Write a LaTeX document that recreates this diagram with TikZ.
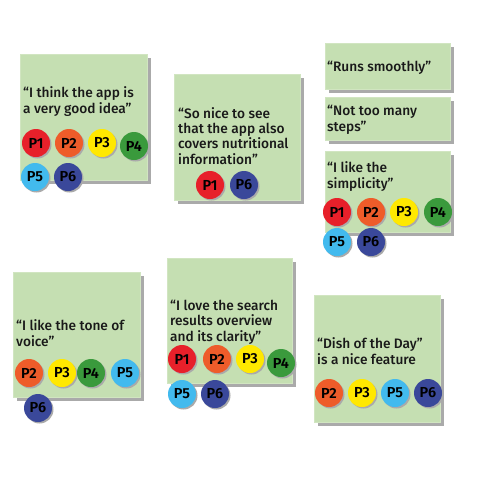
\documentclass[tikz,border=0pt]{standalone}
\usepackage{fontspec}
\setmainfont{Fira Sans}[UprightFont={* Medium}, BoldFont={* SemiBold}]
\newfontfamily\pfont{Fira Sans}[UprightFont={* SemiBold}]
\usetikzlibrary{shadows}
\definecolor{note}{RGB}{197,223,178}
\definecolor{shade}{RGB}{170,170,170}
\definecolor{cA}{RGB}{231,32,42}
\definecolor{cB}{RGB}{238,92,42}
\definecolor{cC}{RGB}{255,232,0}
\definecolor{cD}{RGB}{58,154,60}
\definecolor{cE}{RGB}{66,186,238}
\definecolor{cF}{RGB}{58,72,154}
\tikzset{
  box/.style={fill=note, draw=note!80!white, line width=0.6pt, inner sep=0,
    drop shadow={shadow xshift=4pt, shadow yshift=-4pt, fill=shade, opacity=1}},
  quote/.style={anchor=base west, align=left, inner sep=0, text=black!90,
    font=\fontsize{13.7pt}{15.3pt}\selectfont},
  pers/.style={circle, minimum size=28pt, inner sep=0, fill=#1, text=black,
    font=\pfont\fontsize{14.5pt}{15pt}\selectfont,
    drop shadow={shadow xshift=1.5pt, shadow yshift=-1.5pt, fill=shade, opacity=1}}
}
\begin{document}
\begin{tikzpicture}[x=1pt,y=-1pt]
\useasboundingbox[fill=white] (0,0) rectangle (480,480);
% boxes
\node[box, minimum width=127pt, minimum height=126pt] (b1) at (83.5,117) {};
\node[box, minimum width=126pt, minimum height=126pt] (b2) at (237,137) {};
\node[box, minimum width=125pt, minimum height=46pt] (b3) at (387.5,66) {};
\node[box, minimum width=125pt, minimum height=43pt] (b4) at (387.5,118.5) {};
\node[box, minimum width=125pt, minimum height=81pt] (b5) at (387.5,191.5) {};
\node[box, minimum width=127pt, minimum height=125pt] (b6) at (76.5,334.5) {};
\node[box, minimum width=125pt, minimum height=125pt] (b7) at (229.5,320.5) {};
\node[box, minimum width=126pt, minimum height=127pt] (b8) at (377,358.5) {};
% quotes (anchor = baseline of last line)
\node[quote] (t1) at (23,113) {“I think the app is\\a very good idea”};
\node[quote] (t2) at (178,164) {“So nice to see\\that the app also\\covers nutritional\\information”};
\node[quote] (t3) at (327,71) {“Runs smoothly”};
\node[quote] (t4) at (327,131) {“Not too many\\steps”};
\node[quote] (t5) at (327,188) {“I like the\\simplicity”};
\node[quote] (t6) at (16,346) {“I like the tone of\\voice”};
\node[quote] (t7) at (170,341) {“I love the search\\results overview\\and its clarity”};
\node[quote] (t8) at (317,364) {“Dish of the Day”\\is a nice feature};
% box 1
\node[pers=cA] (a1) at (36,143) {P1};
\node[pers=cB] (a2) at (69,143) {P2};
\node[pers=cC] (a3) at (102,143) {P3};
\node[pers=cD] (a4) at (134,146) {P4};
\node[pers=cE] (a5) at (35,177) {P5};
\node[pers=cF] (a6) at (68,177) {P6};
% box 2
\node[pers=cA] (b2p1) at (210,185) {P1};
\node[pers=cF] (b2p6) at (244,185) {P6};
% box 5
\node[pers=cA] (c1) at (337,212) {P1};
\node[pers=cB] (c2) at (371,212) {P2};
\node[pers=cC] (c3) at (404,212) {P3};
\node[pers=cD] (c4) at (438,212) {P4};
\node[pers=cE] (c5) at (337,242) {P5};
\node[pers=cF] (c6) at (371,242) {P6};
% box 6
\node[pers=cB] (d2) at (29,373) {P2};
\node[pers=cC] (d3) at (62,373) {P3};
\node[pers=cD] (d4) at (91,373) {P4};
\node[pers=cE] (d5) at (125,373) {P5};
\node[pers=cF] (d6) at (38,408) {P6};
% box 7
\node[pers=cA] (e1) at (182,359) {P1};
\node[pers=cB] (e2) at (217,359) {P2};
\node[pers=cC] (e3) at (250,359) {P3};
\node[pers=cD] (e4) at (281,363) {P4};
\node[pers=cE] (e5) at (182,394) {P5};
\node[pers=cF] (e6) at (215,394) {P6};
% box 8
\node[pers=cB] (f2) at (329,393) {P2};
\node[pers=cC] (f3) at (362,393) {P3};
\node[pers=cE] (f5) at (395,393) {P5};
\node[pers=cF] (f6) at (428,393) {P6};
\end{tikzpicture}
\end{document}
